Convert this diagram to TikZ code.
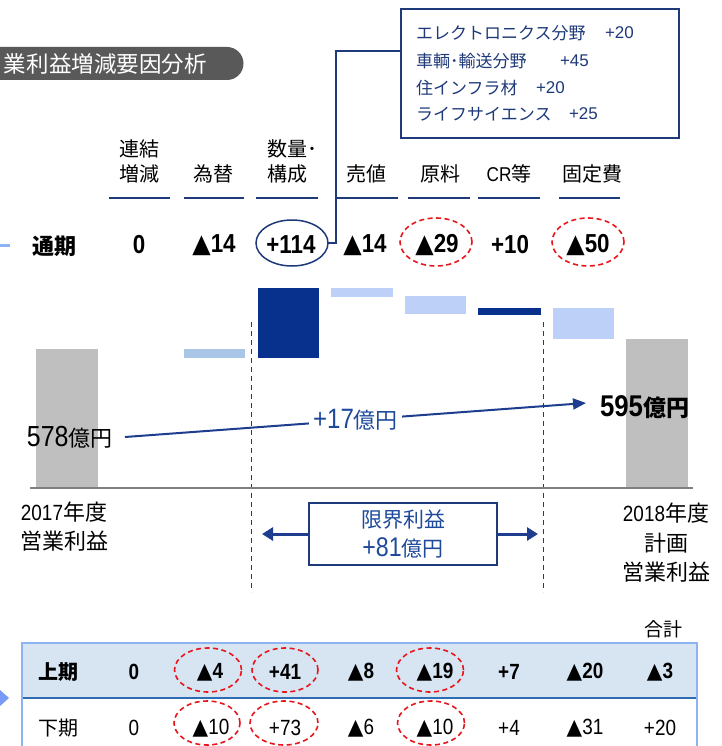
\documentclass[tikz,border=0pt]{standalone}
\usepackage{fontspec}
\setmainfont{Liberation Sans}
\newfontfamily\jp{Noto Sans CJK JP}
\newfontfamily\nar[FakeStretch=0.86]{Liberation Sans}
\newfontfamily\dv[FakeStretch=0.92]{DejaVu Sans}
\usetikzlibrary{shapes.geometric,arrows.meta}
\definecolor{navy}{HTML}{1F3A7A}
\definecolor{arrowBlue}{HTML}{1F3D8F}
\definecolor{barDark}{HTML}{08318E}
\definecolor{barLight}{HTML}{BDD0F7}
\definecolor{barFx}{HTML}{A9C6E6}
\definecolor{barGray}{HTML}{BFBFBF}
\definecolor{tabGray}{HTML}{595959}
\definecolor{txtBlue}{HTML}{1F4A9C}
\definecolor{ringRed}{HTML}{E8161B}
\definecolor{tblFill}{HTML}{D7E5F3}
\definecolor{tblLine}{HTML}{8DB4F2}
\definecolor{tblSep}{HTML}{2E6DB4}
\definecolor{axisGray}{HTML}{808080}
\newcommand{\fsz}[1]{\fontsize{#1}{#1}\selectfont}
\newcommand{\tri}{{\dv ▲}}
\tikzset{
  every node/.style={inner sep=0pt,outer sep=0pt},
  hdr/.style={font=\jp\fsz{20}},
  uline/.style={draw=navy,line width=2.5pt},
  val/.style={font=\nar\bfseries\fsz{26}},
  infotxt/.style={anchor=west,font=\jp\fsz{17},text=navy},
  infonum/.style={anchor=west,font=\fsz{17},text=navy},
  redring/.style={ellipse,draw=ringRed,line width=1.6pt,dash pattern=on 5pt off 3.5pt},
  vline/.style={draw=navy,line width=1pt,dash pattern=on 5pt off 4pt},
  bigarrow/.style={draw=arrowBlue,line width=3pt,-{Triangle[length=11pt,width=13pt]}},
  lbl/.style={font=\jp\fsz{22}},
  rowA/.style={font=\nar\bfseries\fsz{22}},
  rowB/.style={font=\nar\fsz{22}},
}
\begin{document}
\begin{tikzpicture}[x=1pt,y=-1pt]
\useasboundingbox (0,0) rectangle (721,746);
\clip (0,0) rectangle (721,746);
\fill[white] (0,0) rectangle (721,746);

% title tab
\fill[tabGray] (0,47) -- (227,47) arc[start angle=-90,end angle=90,radius=16.5] -- (0,80) -- cycle;
\node[anchor=west,text=white,font=\jp\fsz{22.5}] (title) at (4,64) {業利益増減要因分析};

% info box
\node[draw=navy,line width=1.8pt,minimum width=278pt,minimum height=129pt] (info) at (540,73.5) {};
\node[infotxt] (i1) at (416,33) {エレクトロニクス分野};
\node[infonum] (i1n) at (605,33) {+20};
\node[infotxt] (i2) at (416,61) {車輌･輸送分野};
\node[infonum] (i2n) at (560,61) {+45};
\node[infotxt] (i3) at (416,88) {住インフラ材};
\node[infonum] (i3n) at (536,88) {+20};
\node[infotxt] (i4) at (416,114) {ライフサイエンス};
\node[infonum] (i4n) at (569,114) {+25};

% headers
\node[hdr] (h1a) at (139,149) {連結};
\node[hdr] (h1b) at (139,174) {増減};
\node[hdr] (h2) at (213,174) {為替};
\node[hdr,anchor=west] (h3a) at (267,149) {数量･};
\node[hdr,anchor=west] (h3b) at (267,174) {構成};
\node[hdr] (h4) at (366,174) {売値};
\node[hdr] (h5) at (440,174) {原料};
\node[hdr] (h6) at (509,174) {{\nar CR}等};
\node[hdr] (h7) at (592,174) {固定費};
\draw[uline] (109,198) -- (170,198);
\draw[uline] (184,198) -- (244,198);
\draw[uline] (256,198) -- (318,198);
\draw[uline] (337,198) -- (398,198);
\draw[uline] (408,198) -- (470,198);
\draw[uline] (478,198) -- (540,198);
\draw[uline] (559,198) -- (620,198);

% full-year row
\draw[tblLine,line width=3pt] (0,245) -- (10,245);
\node[font=\jp\bfseries\fsz{22}] (tsuki) at (54,246) {通期};
\node[val] (t0) at (139,245) {0};
\node[val] (t1) at (214,245) {\tri14};
\node[val] (t2) at (291,245) {+114};
\node[val] (t3) at (365,245) {\tri14};
\node[val] (t4) at (437,245) {\tri29};
\node[val] (t5) at (510,245) {+10};
\node[val] (t6) at (588,245) {\tri50};
\node[ellipse,draw=navy,line width=1.5pt,minimum width=72pt,minimum height=46pt] (c114) at (292,243) {};
\node[redring,minimum width=72pt,minimum height=48pt] (c29) at (436,242) {};
\node[redring,minimum width=72pt,minimum height=48pt] (c50) at (588,242) {};
\coordinate (jn) at (336,51);
\draw[navy,line width=1.5pt] (c114.east) -| (jn) -- (info.west |- jn);

% waterfall bars
\fill[barGray] (36,349) rectangle (98,488);
\fill[barFx] (184,349) rectangle (245,358);
\fill[barDark] (258,288) rectangle (319,358);
\fill[barLight] (331,288) rectangle (393,297);
\fill[barLight] (405,296) rectangle (466,314);
\fill[barDark] (478,308) rectangle (541,315);
\fill[barLight] (553,308) rectangle (614,339);
\fill[barGray] (626,339) rectangle (688,488);

\draw[vline] (251,322) -- (251,592);
\draw[vline] (543,322) -- (543,592);
\draw[axisGray,line width=1.2pt] (30,488) -- (693,488);

% totals
\node[anchor=west,font=\nar\fsz{29}] (v578) at (27,437) {578{\jp\fsz{22}億円}};
\node[anchor=west,font=\nar\bfseries\fsz{30}] (v595) at (600,407) {595{\jp\bfseries\fsz{23}億円}};
\coordinate (s17) at (125,437);
\coordinate (e17) at (586,403);
\draw[arrowBlue,line width=2pt,-{Triangle[length=13pt,width=11pt]}] (s17) -- node[fill=white,inner sep=4pt,text=txtBlue,font=\nar\fsz{28}] (lbl17) {+17{\jp\fsz{22}億円}} (e17);

% bottom labels
\node[lbl] (y17a) at (64,512) {{\nar 2017}年度};
\node[lbl] (y17b) at (64,541) {営業利益};
\node[lbl] (y18a) at (666,513) {{\nar 2018}年度};
\node[lbl] (y18b) at (666,543) {計画};
\node[lbl] (y18c) at (666,572) {営業利益};

% marginal profit box
\node[draw=navy,line width=1.5pt,minimum width=188pt,minimum height=62pt,align=center,text=txtBlue,font=\jp\fontsize{21}{29}\selectfont] (mbox) at (403,534) {限界利益\\{\nar\fsz{27}+81}億円};
\coordinate (ml) at (262,534);
\coordinate (mr) at (538,534);
\draw[bigarrow] (mbox.west) -- (ml);
\draw[bigarrow] (mbox.east) -- (mr);

% table
\node[font=\jp\fsz{19}] (goukei) at (663,629) {合計};
\fill[tblFill] (22,643) rectangle (697,698);
\draw[tblSep,line width=2pt] (22,698) -- (697,698);
\draw[tblLine,line width=2pt] (22,760) -- (22,643) -- (697,643) -- (697,760);
\fill[tblLine!85!blue] (0,690) -- (9,698) -- (0,706) -- cycle;

\node[font=\jp\bfseries\fsz{20}] (kami) at (58,672) {上期};
\node[rowA] (a0) at (134,672) {0};
\node[rowA] (a1) at (210,672) {\tri4};
\node[rowA] (a2) at (285,672) {+41};
\node[rowA] (a3) at (361,672) {\tri8};
\node[rowA] (a4) at (435,672) {\tri19};
\node[rowA] (a5) at (509,672) {+7};
\node[rowA] (a6) at (585,672) {\tri20};
\node[rowA] (a7) at (660,672) {\tri3};
\node[redring,minimum width=67pt,minimum height=44pt] (ra1) at (208,670) {};
\node[redring,minimum width=66pt,minimum height=44pt] (ra2) at (285,670) {};
\node[redring,minimum width=67pt,minimum height=44pt] (ra4) at (430,670) {};

\node[font=\jp\fsz{20}] (shimo) at (58,728) {下期};
\node[rowB] (b0) at (134,728) {0};
\node[rowB] (b1) at (211,728) {\tri10};
\node[rowB] (b2) at (285,728) {+73};
\node[rowB] (b3) at (361,728) {\tri6};
\node[rowB] (b4) at (435,728) {\tri10};
\node[rowB] (b5) at (509,728) {+4};
\node[rowB] (b6) at (585,728) {\tri31};
\node[rowB] (b7) at (660,728) {+20};
\node[redring,minimum width=66pt,minimum height=44pt] (rb1) at (207,723) {};
\node[redring,minimum width=68pt,minimum height=44pt] (rb2) at (284,723) {};
\node[redring,minimum width=67pt,minimum height=44pt] (rb4) at (431,723) {};
\end{tikzpicture}
\end{document}
